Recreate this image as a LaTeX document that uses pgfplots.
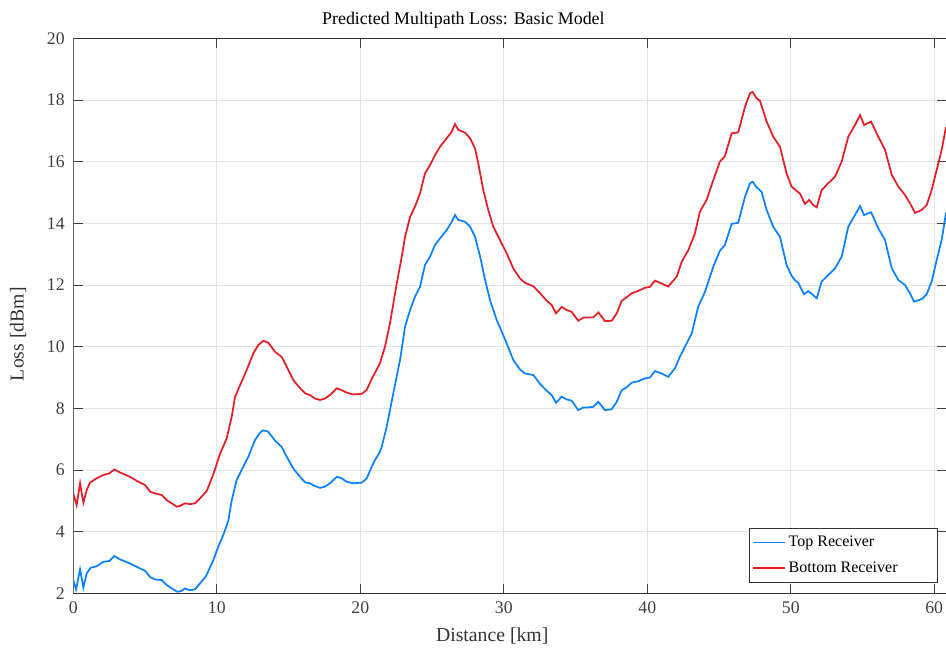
\documentclass[border=0pt]{standalone}
\usepackage{fontspec}
\setmainfont{Liberation Serif}
\usepackage{pgfplots}
\pgfplotsset{compat=1.18}
\definecolor{topblue}{RGB}{10,130,255}
\definecolor{botred}{RGB}{232,28,38}
\begin{document}
\begin{tikzpicture}
\begin{axis}[
  at={(0pt,0pt)}, anchor=south west,
  scale only axis, width=654.5pt, height=416.25pt,
  xmin=0, xmax=60.82, ymin=2, ymax=20,
  xtick={0,10,...,60}, ytick={2,4,...,20},
  /pgf/number format/assume math mode=true,
  tick label style={font=\fontsize{13.3}{15}\selectfont, text=black!75},
  xticklabel style={yshift=-3pt},
  yticklabel style={xshift=-3pt},
  tick align=inside, major tick length=7pt,
  tick style={black!75, line width=0.6pt},
  axis line style={black!80, line width=0.6pt},
  grid=major, major grid style={black!10, line width=0.6pt},
  title={Predicted Multipath Loss: Basic Model},
  title style={at={(rel axis cs:0.447,1.019)}, anchor=center, font=\fontsize{13.4}{15}\selectfont},
  xlabel={Distance [km]},
  xlabel style={at={(rel axis cs:0.48,-0.077)}, anchor=center, font=\fontsize{14.8}{17}\selectfont, text=black!80},
  ylabel={Loss [dBm]},
  ylabel style={at={(rel axis cs:-0.0634,0.467)}, anchor=center, rotate=0, font=\fontsize{14.8}{17}\selectfont, text=black!80},
  legend style={at={(rel axis cs:0.9908,0.0198)}, anchor=south east, draw=black!80, line width=0.6pt,
    font=\fontsize{12}{14}\selectfont, inner xsep=2pt, inner ysep=3.5pt, row sep=6pt},
  legend cell align=left,
  legend image code/.code={\draw[#1, line width=1.3pt] (0pt,0pt) -- (24pt,0pt);},
]
\addplot[topblue, line width=1.3pt] coordinates {
(0,2.43)(0.19,2.13)(0.47,2.78)(0.70,2.19)(0.93,2.65)(1.21,2.83)(1.63,2.88)(2.09,3.02)(2.51,3.05)(2.86,3.21)(3.25,3.10)(3.95,2.97)(4.42,2.86)(5.0,2.73)(5.37,2.52)(5.71,2.45)(6.16,2.43)(6.51,2.27)(6.86,2.16)(7.25,2.05)(7.55,2.08)(7.78,2.16)(8.13,2.10)(8.48,2.13)(8.83,2.32)(9.25,2.56)(9.76,3.08)(10.10,3.51)(10.45,3.89)(10.80,4.35)(11.04,5.02)(11.38,5.67)(11.73,6.0)(12.20,6.43)(12.66,6.97)(13.01,7.21)(13.24,7.29)(13.59,7.24)(14.06,6.95)(14.52,6.75)(14.87,6.43)(15.33,6.05)(15.80,5.78)(16.15,5.60)(16.49,5.57)(16.84,5.48)(17.19,5.42)(17.54,5.46)(17.89,5.57)(18.36,5.78)(18.70,5.73)(19.05,5.62)(19.51,5.57)(20.10,5.59)(20.45,5.73)(20.79,6.1)(21.02,6.32)(21.37,6.59)(21.49,6.75)(21.84,7.40)(22.30,8.49)(22.77,9.57)(23.12,10.65)(23.47,11.19)(23.81,11.62)(24.16,11.94)(24.51,12.65)(24.86,12.92)(25.21,13.30)(25.55,13.51)(26.02,13.78)(26.37,14.05)(26.60,14.27)(26.83,14.11)(27.30,14.05)(27.65,13.89)(28.0,13.56)(28.35,12.92)(28.70,12.16)(29.04,11.51)(29.51,10.86)(29.80,10.55)(30.20,10.11)(30.66,9.57)(31.13,9.26)(31.48,9.13)(32.06,9.08)(32.53,8.79)(32.99,8.57)(33.34,8.43)(33.64,8.18)(34.04,8.38)(34.38,8.29)(34.73,8.25)(35.19,7.94)(35.54,8.03)(35.89,8.03)(36.24,8.05)(36.59,8.21)(37.05,7.94)(37.52,7.97)(37.87,8.21)(38.22,8.59)(38.56,8.68)(38.91,8.83)(39.37,8.88)(39.84,8.97)(40.19,9.0)(40.54,9.21)(41.0,9.13)(41.46,9.02)(41.93,9.30)(42.28,9.68)(42.63,10.0)(43.10,10.43)(43.55,11.30)(44.02,11.78)(44.60,12.59)(45.06,13.11)(45.41,13.30)(45.88,13.98)(46.34,14.02)(46.81,14.86)(47.16,15.30)(47.34,15.35)(47.62,15.17)(47.97,15.02)(48.32,14.43)(48.78,13.89)(49.25,13.56)(49.71,12.65)(50.06,12.30)(50.29,12.16)(50.52,12.07)(50.92,11.70)(51.22,11.80)(51.57,11.67)(51.81,11.57)(52.15,12.11)(52.61,12.32)(53.08,12.54)(53.55,12.92)(54.01,13.89)(54.48,14.27)(54.83,14.56)(55.11,14.27)(55.60,14.36)(56.10,13.84)(56.57,13.46)(57.04,12.54)(57.50,12.16)(57.96,12.0)(58.31,11.73)(58.59,11.46)(59.12,11.54)(59.47,11.70)(59.82,12.11)(60.17,12.81)(60.52,13.46)(60.82,14.35)
};
\addlegendentry{Top Receiver}
\addplot[botred, line width=1.3pt] coordinates {
(0,5.24)(0.23,4.86)(0.47,5.57)(0.70,4.94)(0.93,5.35)(1.16,5.59)(1.63,5.73)(2.09,5.84)(2.51,5.89)(2.86,6.02)(3.25,5.92)(3.95,5.78)(4.42,5.65)(5.0,5.51)(5.37,5.29)(5.71,5.24)(6.16,5.19)(6.51,5.02)(6.86,4.92)(7.21,4.81)(7.44,4.84)(7.78,4.92)(8.13,4.89)(8.48,4.92)(8.83,5.08)(9.30,5.32)(9.76,5.87)(10.22,6.52)(10.69,7.03)(11.04,7.73)(11.27,8.37)(11.62,8.75)(12.08,9.24)(12.54,9.78)(12.89,10.05)(13.24,10.19)(13.59,10.13)(14.06,9.83)(14.52,9.67)(14.87,9.35)(15.33,8.92)(15.80,8.65)(16.15,8.49)(16.49,8.43)(16.84,8.32)(17.19,8.27)(17.54,8.32)(17.89,8.43)(18.36,8.65)(18.70,8.59)(19.05,8.51)(19.51,8.45)(20.10,8.47)(20.45,8.6)(20.79,8.95)(21.02,9.15)(21.37,9.46)(21.72,10.0)(22.07,10.76)(22.54,12.05)(22.89,12.92)(23.12,13.56)(23.47,14.21)(23.81,14.54)(24.16,14.97)(24.51,15.62)(24.86,15.89)(25.21,16.21)(25.55,16.48)(26.02,16.76)(26.37,16.97)(26.60,17.22)(26.83,17.03)(27.30,16.94)(27.65,16.76)(28.0,16.43)(28.22,15.95)(28.57,15.08)(28.92,14.43)(29.27,13.89)(29.74,13.45)(30.20,13.03)(30.66,12.54)(31.13,12.21)(31.48,12.07)(32.06,11.96)(32.53,11.73)(32.99,11.49)(33.34,11.35)(33.64,11.08)(34.04,11.29)(34.38,11.19)(34.73,11.13)(35.19,10.84)(35.54,10.94)(35.89,10.95)(36.24,10.95)(36.59,11.11)(37.05,10.83)(37.52,10.84)(37.87,11.08)(38.22,11.49)(38.56,11.60)(38.91,11.73)(39.37,11.81)(39.84,11.91)(40.19,11.94)(40.54,12.14)(41.0,12.05)(41.46,11.95)(42.05,12.27)(42.40,12.75)(42.86,13.13)(43.32,13.67)(43.67,14.38)(44.14,14.76)(44.60,15.40)(45.06,16.0)(45.41,16.18)(45.88,16.92)(46.34,16.95)(46.81,17.78)(47.16,18.22)(47.34,18.26)(47.62,18.05)(47.85,17.98)(48.32,17.30)(48.78,16.81)(49.25,16.48)(49.71,15.62)(50.06,15.19)(50.41,15.05)(50.64,14.97)(50.99,14.63)(51.29,14.76)(51.57,14.59)(51.81,14.52)(52.15,15.08)(52.61,15.30)(53.08,15.51)(53.55,16.0)(54.01,16.81)(54.48,17.19)(54.83,17.51)(55.11,17.19)(55.60,17.30)(56.10,16.81)(56.57,16.38)(57.04,15.57)(57.50,15.19)(57.96,14.92)(58.31,14.65)(58.66,14.34)(59.12,14.43)(59.47,14.59)(59.82,15.08)(60.17,15.73)(60.52,16.38)(60.82,17.13)
};
\addlegendentry{Bottom Receiver\rule{26pt}{0pt}}
\draw[black!50, line width=1.4pt] (rel axis cs:0,0) -- (rel axis cs:0,1);
\end{axis}
\pgfresetboundingbox
\useasboundingbox (-55pt,-42.5pt) rectangle (654.5pt,445pt);
\end{tikzpicture}
\end{document}
